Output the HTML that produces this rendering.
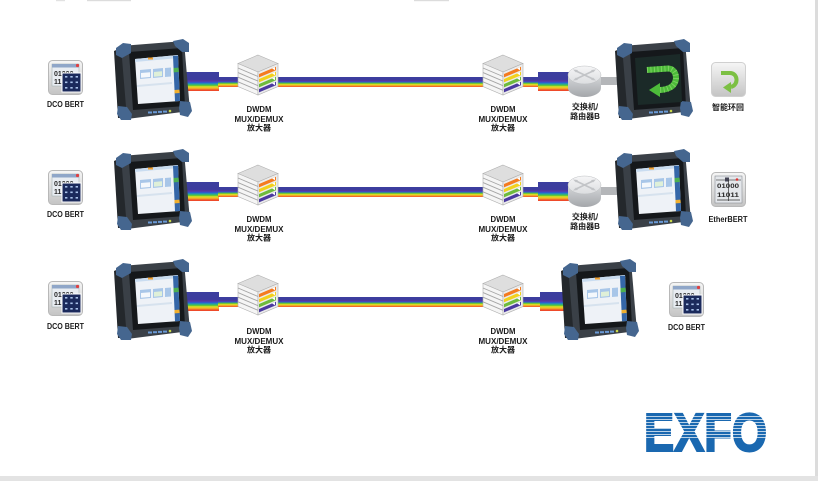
<!DOCTYPE html>
<html><head><meta charset="utf-8">
<style>
html,body{margin:0;padding:0;background:#fff;}
svg{display:block}
.l{font-family:"Liberation Sans","Noto Sans CJK SC",sans-serif;font-weight:bold;font-size:8px;fill:#1b1b1b;text-anchor:middle}
.i{font-family:"Liberation Sans",sans-serif;font-weight:bold;font-size:7px;fill:#2a2a2a}
.x{font-family:"Liberation Sans",sans-serif;font-weight:bold;font-size:54px;fill:#1a68b0;stroke:#1a68b0;stroke-width:2}
</style></head><body>
<svg width="818" height="481" viewBox="0 0 818 481" xmlns="http://www.w3.org/2000/svg">
<defs>
 <linearGradient id="gw" x1="0" y1="0" x2="0" y2="1">
  <stop offset="0" stop-color="#3b3f9f"/><stop offset="0.40" stop-color="#3d3c9e"/>
  <stop offset="0.47" stop-color="#5d35a4"/>
  <stop offset="0.56" stop-color="#2c5bd2"/>
  <stop offset="0.63" stop-color="#22a3a8"/>
  <stop offset="0.70" stop-color="#52c23a"/>
  <stop offset="0.78" stop-color="#dfe324"/>
  <stop offset="0.87" stop-color="#f6a527"/>
  <stop offset="0.95" stop-color="#ee4a2a"/><stop offset="1" stop-color="#ee4a2a"/>
 </linearGradient>
 <linearGradient id="gt" x1="0" y1="0" x2="0" y2="1">
  <stop offset="0" stop-color="#3b3f9f"/><stop offset="0.28" stop-color="#3d3c9e"/>
  <stop offset="0.40" stop-color="#5d35a4"/>
  <stop offset="0.50" stop-color="#2c5bd2"/>
  <stop offset="0.62" stop-color="#52c23a"/>
  <stop offset="0.74" stop-color="#dfe324"/>
  <stop offset="0.86" stop-color="#f6a527"/>
  <stop offset="1" stop-color="#ee4a2a"/>
 </linearGradient>
 <linearGradient id="ig" x1="0" y1="0" x2="0" y2="1">
  <stop offset="0" stop-color="#f6f6f6"/><stop offset="1" stop-color="#c4c4c4"/>
 </linearGradient>
 <linearGradient id="rs" x1="0" y1="0" x2="0" y2="1">
  <stop offset="0" stop-color="#d6d8da"/><stop offset="1" stop-color="#a4a7ab"/>
 </linearGradient>
 <linearGradient id="rt" x1="0" y1="0" x2="0" y2="1">
  <stop offset="0" stop-color="#f6f6f7"/><stop offset="1" stop-color="#dcdee0"/>
 </linearGradient>

 <g id="dev">
  <polygon points="1,11 12,6 17,78 5,78" fill="#24282c"/>
  <polygon points="8,6 71,1 77,71 14,79" fill="#3a4047"/>
  <polygon points="16,12 69,8 72,66 20,70" fill="#15181b"/>
  <polygon points="3,8 10,3 18,4 18,13 9,18 3,15" fill="#45668f"/>
  <polygon points="60,1 70,-1 76,3 76,12 69,12 62,6" fill="#45668f"/>
  <polygon points="5,66 14,67 19,74 18,80 8,80 4,74" fill="#45668f"/>
  <polygon points="67,61 77,62 79,71 75,77 67,75 66,68" fill="#45668f"/>
  <rect x="35" y="71.5" width="4" height="2" fill="#6a9ad6"/>
  <rect x="40" y="71.2" width="4" height="2" fill="#6a9ad6"/>
  <rect x="45" y="70.9" width="4" height="2" fill="#6a9ad6"/>
  <rect x="50" y="70.6" width="4" height="2" fill="#6a9ad6"/>
  <circle cx="57" cy="71" r="1.3" fill="#c8d84a"/>
 </g>
 <g id="scrL">
  <polygon points="22,19 65,15 67,61 25,64" fill="#eef2f7"/>
  <polygon points="22,19 65,15 65.2,18 22.2,22" fill="#c9dcf0"/>
  <rect x="35" y="17.5" width="5" height="2" fill="#f0a030"/>
  <polygon points="60,16 65,15.6 67,61 62,61.4" fill="#3567a8"/>
  <polygon points="60.5,28 65.5,27.6 65.7,32 60.7,32.4" fill="#4cb050"/>
  <polygon points="61.5,50 66.5,49.6 66.6,53 61.6,53.4" fill="#f0b030"/>
  <polygon points="27,30 38,29 38,38 27,39" fill="#a8c6e8"/>
  <polygon points="40,29 50,28 50,37 40,38" fill="#a8c6e8"/>
  <polygon points="52,28 58,27.5 58,36.5 52,37" fill="#a8c6e8"/>
  <polygon points="28,33 37,32.2 37,37 28,37.8" fill="#f4f8fc"/>
  <polygon points="41,32 49,31.2 49,36 41,36.8" fill="#dff0d8"/>
  <polygon points="24,45 59,42 59,44 24,47" fill="#d6e2ee"/>
 </g>
 <g id="scrR">
  <polygon points="21,18 66,14 68,62 24,65" fill="#1b2a28"/>
  <path d="M33,30 L54,28.5 C63,28.5 65,42 57,47 C53,49.5 49,50 45,50" fill="none" stroke="#4dbb3a" stroke-width="6"/>
  <path d="M33,30 L54,28.5 C63,28.5 65,42 57,47 C53,49.5 49,50 45,50" fill="none" stroke="#9be07a" stroke-width="6" stroke-dasharray="1 2.5" opacity="0.6"/>
  <polygon points="35,50 46,43 46,57" fill="#4dbb3a"/>
 </g>
 <g id="mux">
  <polygon points="20,0 40,8.5 20,17 0,8.5" fill="#dedede" stroke="#b0b0b0" stroke-width="0.6"/>
  <polygon points="0,8.5 20,17 20,40 0,31.5" fill="#f5f5f5" stroke="#b0b0b0" stroke-width="0.6"/>
  <polygon points="20,17 40,8.5 40,31.5 20,40" fill="#ececec" stroke="#b0b0b0" stroke-width="0.6"/>
  <g stroke="#a5a5a5" stroke-width="0.9">
   <line x1="0" y1="13" x2="20" y2="21.5"/>
   <line x1="0" y1="17.6" x2="20" y2="26.1"/>
   <line x1="0" y1="22.2" x2="20" y2="30.7"/>
   <line x1="0" y1="26.8" x2="20" y2="35.3"/>
  </g>
  <polygon points="21,19 38,11.8 38,15.2 21,22.4" fill="#f47b20"/>
  <polygon points="21,24 38,16.8 38,20.2 21,27.4" fill="#f2d11c"/>
  <polygon points="21,29 38,21.8 38,25.2 21,32.4" fill="#6dbb3c"/>
  <polygon points="21,34 38,26.8 38,30.2 21,37.4" fill="#4b3aa0"/>
  <g fill="#fff">
   <polygon points="34,13.4 37,12.2 37,15.2"/>
   <polygon points="34,18.4 37,17.2 37,20.2"/>
   <polygon points="34,23.4 37,22.2 37,25.2"/>
   <polygon points="34,28.4 37,27.2 37,30.2"/>
  </g>
 </g>
 <g id="router">
  <path d="M0,9 L0,22 A16.5,9 0 0 0 33,22 L33,9 Z" fill="url(#rs)"/>
  <ellipse cx="16.5" cy="9" rx="16.5" ry="9" fill="url(#rt)" stroke="#bdbfc2" stroke-width="0.5"/>
  <g stroke="#c2c4c7" stroke-width="1.6" fill="none">
   <line x1="7" y1="4.5" x2="26" y2="13.5"/>
   <line x1="26" y1="4.5" x2="7" y2="13.5"/>
  </g>
  <g fill="#c2c4c7">
   <polygon points="5,3.5 10,4 8,6.5"/>
   <polygon points="28,3.5 23,4 25,6.5"/>
   <polygon points="5,14.5 10,14 8,11.5"/>
   <polygon points="28,14.5 23,14 25,11.5"/>
  </g>
 </g>
 <g id="dcoi">
  <rect x="0.5" y="0.5" width="34" height="34" rx="4" fill="url(#ig)" stroke="#b8b8b8"/>
  <rect x="4" y="4" width="27" height="22" fill="#e9edf2" stroke="#9aa" stroke-width="0.5"/>
  <rect x="4" y="4" width="27" height="3.5" fill="#8fa6c8"/>
  <circle cx="29.5" cy="5.5" r="1.6" fill="#e04040"/>
 </g>
 <g id="dcog">
  <rect x="14" y="13" width="19" height="19" fill="#1b2a5c" stroke="#fff" stroke-width="1"/>
  <g fill="#a9c2ea">
   <rect x="17" y="16" width="2.4" height="1.6"/><rect x="22.3" y="16" width="2.4" height="1.6"/><rect x="27.6" y="16" width="2.4" height="1.6"/>
   <rect x="17" y="21.5" width="2.4" height="1.6"/><rect x="22.3" y="21.5" width="2.4" height="1.6"/><rect x="27.6" y="21.5" width="2.4" height="1.6"/>
   <rect x="17" y="27" width="2.4" height="1.6"/><rect x="22.3" y="27" width="2.4" height="1.6"/><rect x="27.6" y="27" width="2.4" height="1.6"/>
  </g>
 </g>
 <g id="loop">
  <rect x="0.5" y="0.5" width="34" height="34" rx="4" fill="url(#ig)" stroke="#d0d0d0"/>
  <path d="M10,11 L19,11 C27,11 28,23 20,25" fill="none" stroke="#7cc043" stroke-width="4"/>
  <polygon points="12,25.5 20,20 20,31" fill="#7cc043"/>
 </g>
 <g id="ethi">
  <rect x="0.5" y="0.5" width="34" height="34" rx="4" fill="url(#ig)" stroke="#b8b8b8"/>
  <rect x="4" y="4" width="27" height="27" fill="#e4e7eb" stroke="#8a8f95" stroke-width="0.6"/>
  <line x1="5" y1="8" x2="30" y2="8" stroke="#555" stroke-width="0.8"/>
  <rect x="14" y="5.5" width="4" height="4" fill="#445"/>
  <circle cx="26" cy="7.5" r="1.3" fill="#d33"/>
  <line x1="17.5" y1="8" x2="17.5" y2="29" stroke="#333" stroke-width="0.7"/>
  <line x1="6" y1="28" x2="29" y2="28" stroke="#333" stroke-width="0.7"/>
 </g>
</defs>

<rect width="818" height="481" fill="#fff"/>
<!-- top fragments -->
<rect x="56" y="0" width="9" height="1.2" fill="#e2e2e2"/>
<rect x="87" y="0" width="44" height="1.2" fill="#dcdcdc"/>
<rect x="414" y="0" width="35" height="1.2" fill="#dcdcdc"/>
<!-- right and bottom bars -->
<rect x="815" y="0" width="3" height="481" fill="#dcdcdc"/>
<rect x="0" y="476" width="818" height="5" fill="#e3e3e3"/>

<!-- ROW 1 -->
<rect x="184" y="72" width="35" height="19" fill="url(#gw)"/>
<rect x="218" y="77" width="322" height="10" fill="url(#gt)"/>
<rect x="538" y="72" width="32" height="19" fill="url(#gw)"/>
<rect x="598" y="77" width="22" height="8" fill="#b4b6b9"/>
<use href="#dcoi" x="48" y="60"/>
<text class="i" x="54" y="76">01000</text><text class="i" x="54" y="84">11</text>
<use href="#dcog" x="48" y="60"/>
<use href="#dev" x="113" y="40"/><use href="#scrL" x="113" y="40"/>
<use href="#mux" x="238" y="55"/>
<use href="#mux" x="483" y="55"/>
<use href="#router" x="568" y="66"/>
<use href="#dev" x="614" y="40"/><use href="#scrR" x="614" y="40"/>
<use href="#loop" x="711" y="62"/>
<text class="l" x="65.5" y="107" textLength="37" lengthAdjust="spacingAndGlyphs">DCO BERT</text>
<text class="l" x="259" y="112" textLength="25" lengthAdjust="spacingAndGlyphs">DWDM</text>
<text class="l" x="259" y="122" textLength="49" lengthAdjust="spacingAndGlyphs">MUX/DEMUX</text>
<text class="l" x="259" y="130.5">放大器</text>
<text class="l" x="503" y="112" textLength="25" lengthAdjust="spacingAndGlyphs">DWDM</text>
<text class="l" x="503" y="122" textLength="49" lengthAdjust="spacingAndGlyphs">MUX/DEMUX</text>
<text class="l" x="503" y="130.5">放大器</text>
<text class="l" x="585" y="109.5">交换机/</text>
<text class="l" x="585" y="119">路由器B</text>
<text class="l" x="728" y="110">智能环回</text>

<!-- ROW 2 -->
<rect x="184" y="182" width="35" height="19" fill="url(#gw)"/>
<rect x="218" y="187" width="322" height="10" fill="url(#gt)"/>
<rect x="538" y="182" width="32" height="19" fill="url(#gw)"/>
<rect x="598" y="187" width="22" height="8" fill="#b4b6b9"/>
<use href="#dcoi" x="48" y="170"/>
<text class="i" x="54" y="186">01000</text><text class="i" x="54" y="194">11</text>
<use href="#dcog" x="48" y="170"/>
<use href="#dev" x="113" y="150"/><use href="#scrL" x="113" y="150"/>
<use href="#mux" x="238" y="165"/>
<use href="#mux" x="483" y="165"/>
<use href="#router" x="568" y="176"/>
<use href="#dev" x="614" y="150"/><use href="#scrL" x="614" y="150"/>
<use href="#ethi" x="711" y="172"/>
<text class="i" x="717" y="188" style="font-size:6.5px" textLength="22" lengthAdjust="spacingAndGlyphs">01000</text>
<text class="i" x="717" y="197" style="font-size:6.5px" textLength="22" lengthAdjust="spacingAndGlyphs">11011</text>
<text class="l" x="65.5" y="217" textLength="37" lengthAdjust="spacingAndGlyphs">DCO BERT</text>
<text class="l" x="259" y="222" textLength="25" lengthAdjust="spacingAndGlyphs">DWDM</text>
<text class="l" x="259" y="232" textLength="49" lengthAdjust="spacingAndGlyphs">MUX/DEMUX</text>
<text class="l" x="259" y="240.5">放大器</text>
<text class="l" x="503" y="222" textLength="25" lengthAdjust="spacingAndGlyphs">DWDM</text>
<text class="l" x="503" y="232" textLength="49" lengthAdjust="spacingAndGlyphs">MUX/DEMUX</text>
<text class="l" x="503" y="240.5">放大器</text>
<text class="l" x="585" y="219.5">交换机/</text>
<text class="l" x="585" y="229">路由器B</text>
<text class="l" x="728" y="222" textLength="39" lengthAdjust="spacingAndGlyphs">EtherBERT</text>

<!-- ROW 3 -->
<rect x="184" y="292" width="35" height="19" fill="url(#gw)"/>
<rect x="218" y="297" width="324" height="10" fill="url(#gt)"/>
<rect x="540" y="292" width="28" height="19" fill="url(#gw)"/>
<use href="#dcoi" x="48" y="281"/>
<text class="i" x="54" y="297">01000</text><text class="i" x="54" y="305">11</text>
<use href="#dcog" x="48" y="281"/>
<use href="#dev" x="113" y="260"/><use href="#scrL" x="113" y="260"/>
<use href="#mux" x="238" y="275"/>
<use href="#mux" x="483" y="275"/>
<use href="#dev" x="560" y="260"/><use href="#scrL" x="560" y="260"/>
<use href="#dcoi" x="669" y="282"/>
<text class="i" x="675" y="298">01000</text><text class="i" x="675" y="306">11</text>
<use href="#dcog" x="669" y="282"/>
<text class="l" x="65.5" y="329" textLength="37" lengthAdjust="spacingAndGlyphs">DCO BERT</text>
<text class="l" x="259" y="334" textLength="25" lengthAdjust="spacingAndGlyphs">DWDM</text>
<text class="l" x="259" y="344" textLength="49" lengthAdjust="spacingAndGlyphs">MUX/DEMUX</text>
<text class="l" x="259" y="352.5">放大器</text>
<text class="l" x="503" y="334" textLength="25" lengthAdjust="spacingAndGlyphs">DWDM</text>
<text class="l" x="503" y="344" textLength="49" lengthAdjust="spacingAndGlyphs">MUX/DEMUX</text>
<text class="l" x="503" y="352.5">放大器</text>
<text class="l" x="686.5" y="330" textLength="37" lengthAdjust="spacingAndGlyphs">DCO BERT</text>

<!-- EXFO logo -->
<text class="x" x="644" y="451" textLength="123" lengthAdjust="spacingAndGlyphs">EXFO</text>
<g fill="#fff" opacity="0.7">
 <rect x="640" y="416" width="132" height="1"/>
 <rect x="640" y="419" width="132" height="1"/>
 <rect x="640" y="422" width="132" height="1"/>
 <rect x="640" y="425" width="132" height="1"/>
 <rect x="640" y="428" width="132" height="1"/>
 <rect x="640" y="431" width="132" height="1"/>
 <rect x="640" y="434" width="132" height="1"/>
 <rect x="640" y="437" width="132" height="1"/>
</g>
</svg>
</body></html>
